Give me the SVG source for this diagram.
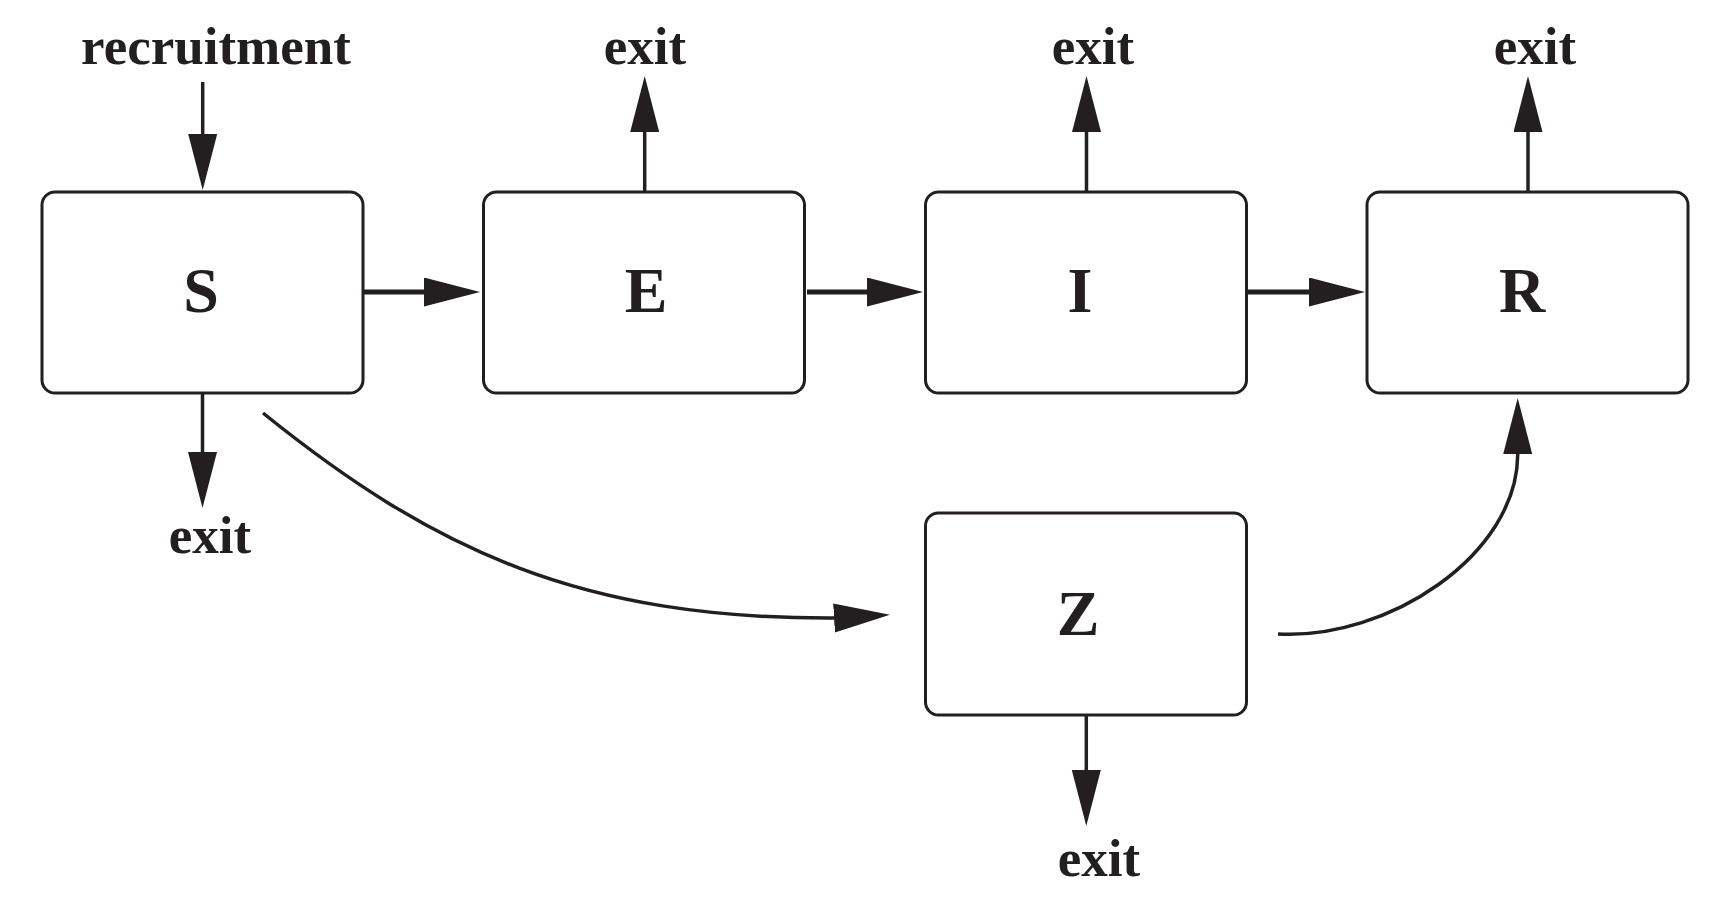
<svg xmlns="http://www.w3.org/2000/svg" width="1730" height="916" viewBox="0 0 1730 916">
<style>
.box{fill:#fff;stroke:#231f20;stroke-width:3}
.lbl{font-family:"Liberation Serif","Times New Roman",serif;font-weight:bold;fill:#231f20;text-anchor:middle}
.big{font-size:64px}
.sm{font-size:53px}
.ln{fill:none;stroke:#231f20;stroke-width:3.5}
.thick{stroke-width:5}
</style>
<defs>
<marker id="ah" markerUnits="userSpaceOnUse" markerWidth="58" markerHeight="30" refX="26" refY="14.5" orient="auto" viewBox="0 0 58 30">
<path d="M0,0 L56,14.5 L0,29 z" fill="#231f20"/>
</marker>
</defs>
<rect width="1730" height="916" fill="#fff"/>
<g id="connectors">
<path class="ln" d="M202.7,82 L202.7,160" marker-end="url(#ah)"/>
<path class="ln" d="M644.7,192 L644.7,106" marker-end="url(#ah)"/>
<path class="ln" d="M1086.5,192 L1086.5,106" marker-end="url(#ah)"/>
<path class="ln" d="M1528,192 L1528,106" marker-end="url(#ah)"/>
<path class="ln" d="M202.5,393 L202.5,478" marker-end="url(#ah)"/>
<path class="ln" d="M1086.3,715 L1086.3,796" marker-end="url(#ah)"/>
<path class="ln thick" d="M364,292 L450,292" marker-end="url(#ah)"/>
<path class="ln thick" d="M807,292 L893,292" marker-end="url(#ah)"/>
<path class="ln thick" d="M1248,292 L1335,292" marker-end="url(#ah)"/>
<path class="ln" d="M263,413 C434.6,551.6 583,619 833,618 L860,616.4" marker-end="url(#ah)"/>
<path class="ln" d="M1278,634 C1388,640 1517,555 1517.7,455 L1517.7,428" marker-end="url(#ah)"/>
</g>
<g id="node-S"><rect class="box" x="42" y="192" width="321" height="201" rx="13"/><text class="lbl big" x="201" y="312">S</text></g>
<g id="node-E"><rect class="box" x="483.5" y="192" width="321" height="201" rx="13"/><text class="lbl big" x="646" y="312">E</text></g>
<g id="node-I"><rect class="box" x="925.5" y="192" width="321" height="201" rx="13"/><text class="lbl big" x="1080" y="312">I</text></g>
<g id="node-R"><rect class="box" x="1367" y="192" width="321" height="201" rx="13"/><text class="lbl big" x="1522" y="312">R</text></g>
<g id="node-Z"><rect class="box" x="925.5" y="513" width="321" height="202" rx="13"/><text class="lbl big" x="1078" y="635">Z</text></g>
<g id="labels">
<text class="lbl sm" x="216" y="64">recruitment</text>
<text class="lbl sm" x="645" y="64">exit</text>
<text class="lbl sm" x="1093" y="64">exit</text>
<text class="lbl sm" x="1535" y="64">exit</text>
<text class="lbl sm" x="210" y="553">exit</text>
<text class="lbl sm" x="1099" y="876">exit</text>
</g>
</svg>
